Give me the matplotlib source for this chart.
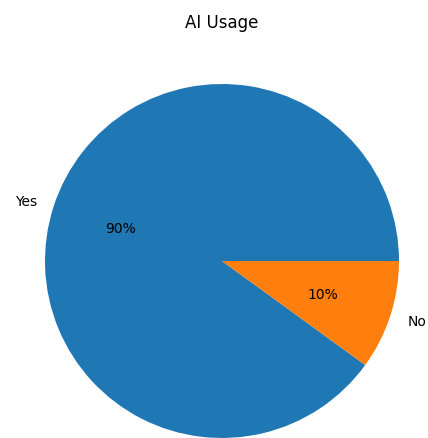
import matplotlib
matplotlib.use("Agg")
import matplotlib.pyplot as plt

# AI usage answers
labels = ["Yes", "No"]
shares = [90, 10]

fig = plt.figure(figsize=(4.28, 4.39), dpi=100)
ax = fig.add_axes([0, 0, 1, 1])
ax.pie(shares, labels=labels, autopct="%1.0f%%")

# place the pie the way the original crop shows it (radius ~177 px)
r = 177.0
cx, cy = 222.0, 262.0
ax.set_xlim(-cx / r, (428 - cx) / r)
ax.set_ylim(-(439 - cy) / r, cy / r)
ax.set_aspect("auto")

fig.text(cx / 428, 1 - 23 / 439, "AI Usage", ha="center", va="center", fontsize=12)

fig.savefig("out.png", dpi=100)
